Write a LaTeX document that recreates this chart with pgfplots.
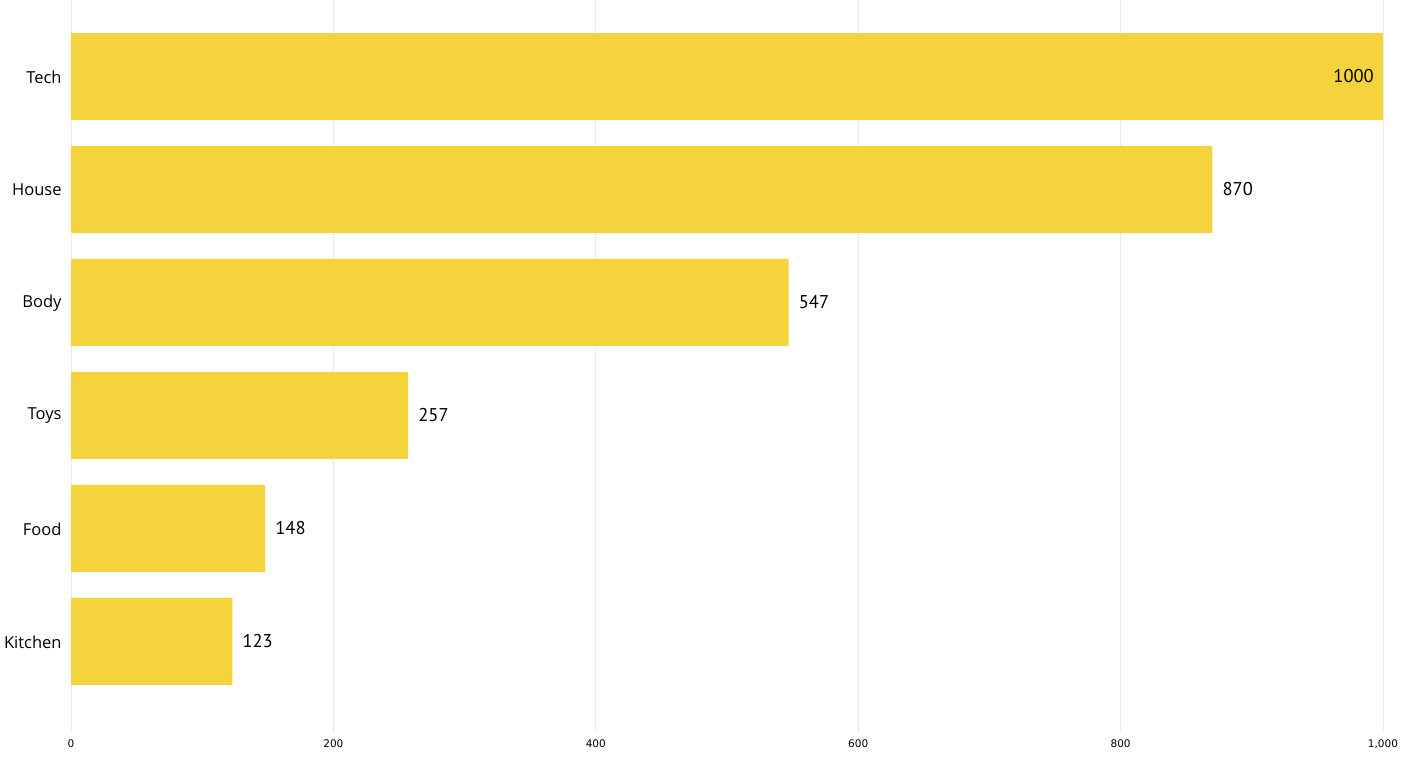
\documentclass[border=0pt]{standalone}
\usepackage{fontspec}
\setmainfont{Open Sans}
\newfontfamily\valfont{PT Sans}
\newfontfamily\tickfont{DejaVu Sans}
\usepackage{pgfplots}
\pgfplotsset{compat=1.18}
\definecolor{baryellow}{RGB}{244,211,60}
\definecolor{gridgray}{RGB}{235,235,235}
\begin{document}
\begin{tikzpicture}
\path[use as bounding box] (0,0) rectangle (1403pt,757pt);
\begin{axis}[
  at={(71pt,24pt)}, anchor=south west,
  scale only axis, width=1312pt, height=733pt,
  xmin=0, xmax=1000, ymin=-0.81, ymax=5.677,
  xbar, bar width=0.77, bar shift=0pt,
  axis line style={draw=none}, tick style={draw=none},
  xmajorgrids, grid style={gridgray, line width=1pt},
  xtick={0,200,400,600,800,1000},
  /pgf/number format/assume math mode=true,
  /pgf/number format/1000 sep={,},
  xticklabel style={font=\tickfont\fontsize{10.5}{12}\selectfont, anchor=north, inner sep=0pt, yshift=-7pt},
  ytick={0,1,2,3,4,5},
  yticklabels={Kitchen,Food,Toys,Body,House,Tech},
  yticklabel style={font=\fontsize{16.5}{19}\selectfont, anchor=east, inner sep=0pt, xshift=-5pt, yshift=-0.5pt},
  clip=false,
]
\addplot[fill=baryellow, draw=none,
  nodes near coords={\pgfmathprintnumber[1000 sep={},assume math mode=true]{\pgfplotspointmeta}},
  nodes near coords style={font=\valfont\fontsize{18.5}{20}\selectfont, anchor=west, inner sep=0pt, xshift=10pt, text=black}]
  coordinates {(123,0) (148,1) (257,2) (547,3) (870,4)};
\addplot[fill=baryellow, draw=none,
  nodes near coords={\pgfmathprintnumber[1000 sep={},assume math mode=true]{\pgfplotspointmeta}},
  nodes near coords style={font=\valfont\fontsize{18.5}{20}\selectfont, anchor=east, inner sep=0pt, xshift=-9pt, text=black}]
  coordinates {(1000,5)};
\end{axis}
\end{tikzpicture}
\end{document}
